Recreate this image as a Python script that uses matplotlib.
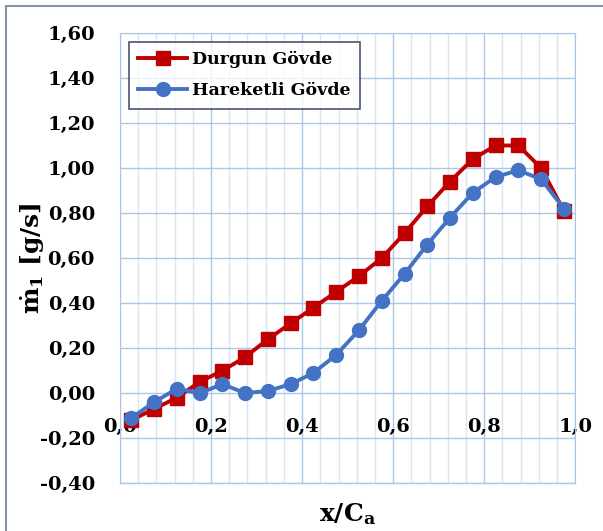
import numpy as np
import matplotlib.pyplot as plt
from matplotlib.ticker import FuncFormatter, MultipleLocator
from matplotlib.patches import Rectangle

# data
x_pos = [0.025, 0.075, 0.125, 0.175, 0.225, 0.275, 0.325, 0.375, 0.425, 0.475,
         0.525, 0.575, 0.625, 0.675, 0.725, 0.775, 0.825, 0.875, 0.925, 0.975]
durgun = [-0.12, -0.07, -0.02, 0.05, 0.10, 0.16, 0.24, 0.31, 0.38, 0.45,
          0.52, 0.60, 0.71, 0.83, 0.94, 1.04, 1.10, 1.10, 1.00, 0.81]
hareketli = [-0.11, -0.04, 0.02, 0.00, 0.04, 0.00, 0.01, 0.04, 0.09, 0.17,
             0.28, 0.41, 0.53, 0.66, 0.78, 0.89, 0.96, 0.99, 0.95, 0.82]

plt.rcParams['font.family'] = 'DejaVu Serif'
plt.rcParams['font.weight'] = 'bold'
plt.rcParams['mathtext.fontset'] = 'dejavuserif'

fig = plt.figure(figsize=(6.03, 5.31), dpi=100)
ax = fig.add_axes([0.199, 0.090, 0.755, 0.848])

# outer border of the chart area
fig.patches.append(Rectangle((0.01, -0.05), 1.2, 1.039, transform=fig.transFigure,
                             fill=False, edgecolor='#8191AE', linewidth=1.5))

ax.plot(x_pos, durgun, color='#C00000', lw=2.8, marker='s', ms=9.5,
        label='Durgun Gövde', zorder=3)
ax.plot(x_pos, hareketli, color='#4472C4', lw=2.8, marker='o', ms=10,
        label='Hareketli Gövde', zorder=4)

ax.set_xlim(0, 1.0)
ax.set_ylim(-0.4, 1.6)
ax.xaxis.set_major_locator(MultipleLocator(0.2))
ax.xaxis.set_minor_locator(MultipleLocator(0.04))
ax.yaxis.set_major_locator(MultipleLocator(0.2))

ax.grid(which='major', color='#A9C8E8', lw=1.0)
ax.grid(which='minor', axis='x', color='#D6E6F5', lw=1.0)
ax.set_axisbelow(True)

for s in ['top', 'right', 'left']:
    ax.spines[s].set_color('#A9C8E8')
ax.spines['bottom'].set_position(('data', 0))
ax.spines['bottom'].set_visible(False)
ax.plot([0, 1], [-0.4, -0.4], color='#A9C8E8', lw=1.0, clip_on=False, zorder=1)

ax.tick_params(which='both', length=0)
ax.tick_params(axis='x', pad=18, labelsize=14)
ax.tick_params(axis='y', pad=18, labelsize=14)
ax.xaxis.set_major_formatter(FuncFormatter(lambda v, p: f'{v:.1f}'.replace('.', ',')))
ax.yaxis.set_major_formatter(FuncFormatter(lambda v, p: f'{v:.2f}'.replace('.', ',')))
for t in ax.get_xticklabels() + ax.get_yticklabels():
    t.set_fontweight('bold')

ax.set_ylabel(r'$\mathbf{\dot{m}_1}$ [g/s]', fontsize=18, fontweight='bold')
ax.yaxis.set_label_coords(-0.16, 0.5)
ax.set_xlabel(r'x/C$_\mathbf{a}$', fontsize=18, fontweight='bold')
ax.xaxis.set_label_coords(0.5, -0.04)

leg = ax.legend(loc='upper left', bbox_to_anchor=(0.0, 1.0), fontsize=12.5,
                frameon=True, fancybox=False, handlelength=2.8, borderpad=0.55,
                labelspacing=0.8, handletextpad=0.3)
leg.get_frame().set_edgecolor('#1B2A4A')
leg.get_frame().set_linewidth(1.2)
for t in leg.get_texts():
    t.set_fontweight('bold')

fig.savefig('out.png', dpi=100)
